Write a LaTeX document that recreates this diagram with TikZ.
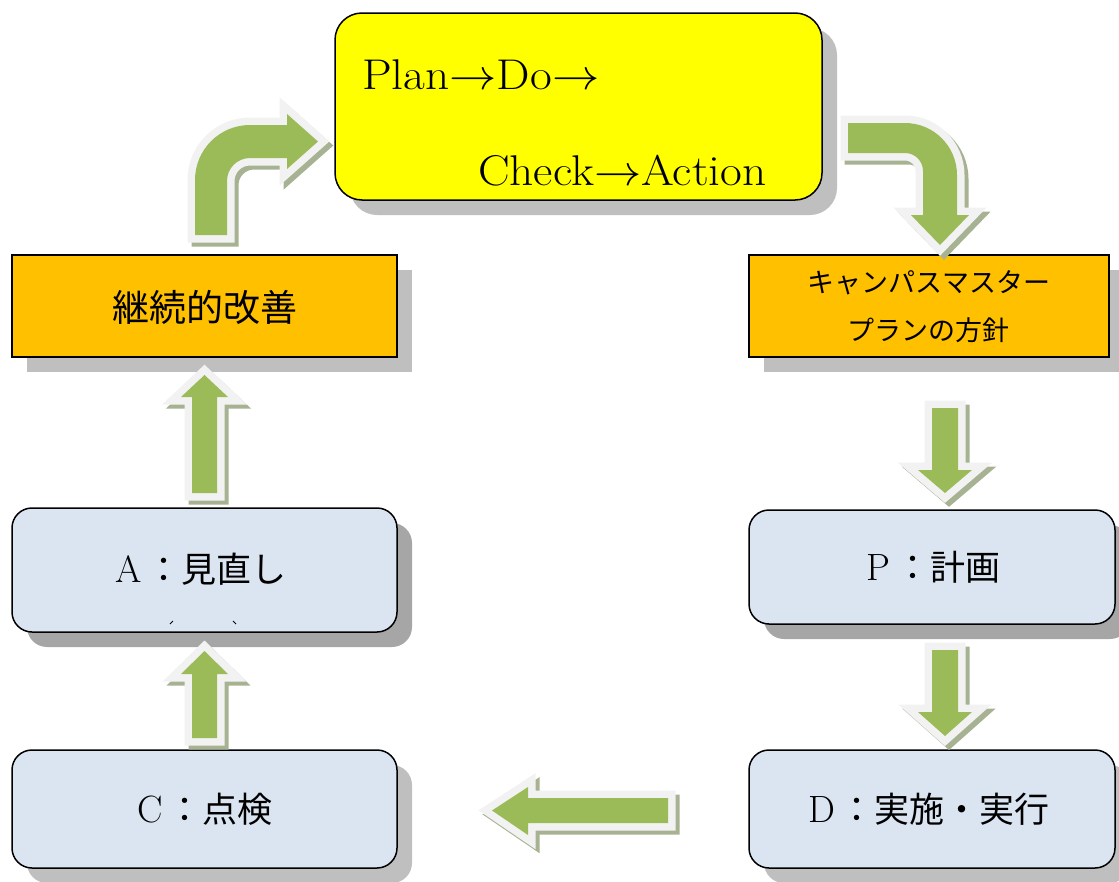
\documentclass[tikz,border=0pt]{standalone}
\usepackage{fontspec}
\usepackage{graphicx}
\newfontfamily\jp{Noto Sans CJK JP}
\usetikzlibrary{shadows}

\definecolor{planyellow}{HTML}{FFFF00}
\definecolor{policyorange}{HTML}{FFC000}
\definecolor{stepblue}{HTML}{DBE5F1}
\definecolor{arrowgreen}{HTML}{9BBB59}
\definecolor{arrowrim}{HTML}{F2F2F2}
\definecolor{arrowshade}{RGB}{166,178,145}
\definecolor{shadelight}{HTML}{BFBFBF}
\definecolor{shadedark}{HTML}{A6A6A6}

% large text arrow built from the 10pt math arrow
\newcommand\bigto{{\fontsize{10}{12}\selectfont\scalebox{4.3}{$\rightarrow$}}}
% wide Latin line for the summary box
\newcommand\wideline[1]{\scalebox{1.1}[1]{#1}}
% step label: Latin letter in a full-width cell, then Japanese text
\newcommand\steplabel[2]{\makebox[35pt]{\fontsize{38}{44}\selectfont #1}{\jp\fontsize{35}{42}\selectfont ：#2}}

% three-layer block arrow: offset shade, light rim, green body
\newcommand\greenarrow[1]{%
  \filldraw[fill=arrowshade, draw=arrowshade, line width=15pt, line join=miter, shift={(4,4)}] #1;
  \filldraw[fill=arrowrim, draw=arrowrim, line width=15pt, line join=miter] #1;
  \fill[arrowgreen] #1;}

\begin{document}
\begin{tikzpicture}[x=1pt, y=-1pt,
  box/.style={draw=black, line width=1.5pt, inner sep=0pt, outer sep=0pt},
  lightshadow/.style={general shadow={fill=shadelight, shadow xshift=15pt, shadow yshift=-15pt}},
  darkshadow/.style={general shadow={fill=shadedark, shadow xshift=15pt, shadow yshift=-15pt}},
  orangebox/.style={box, fill=policyorange, lightshadow},
  stepbox/.style={box, fill=stepblue, rounded corners=20pt},
  latin/.style={inner sep=0pt, anchor=base west, font=\fontsize{43}{50}\selectfont},
  steptext/.style={inner sep=0pt, anchor=base west}
]
\useasboundingbox (0,0) rectangle (1119,881);

% PDCA summary box
\node[box, fill=planyellow, rounded corners=27pt, minimum width=487pt, minimum height=187pt,
  lightshadow] (cycle) at (578.5,106.5) {};
\node[latin] (plando) at (362,89) {\wideline{Plan\bigto Do\bigto}};
\node[latin] (checkact) at (478,185) {\wideline{Check\bigto Action}};

% policy boxes
\node[orangebox, minimum width=385pt, minimum height=102pt] (improve) at (204.5,306) {};
\node[inner sep=0pt, font=\jp\fontsize{37}{44}\selectfont] (improvetext) at (204.5,307) {継続的改善};
\node[orangebox, minimum width=360pt, minimum height=102pt] (policy) at (929,306) {};
\node[inner sep=0pt, font=\jp\fontsize{27}{32}\selectfont] (policy1) at (929,283) {キャンパスマスター};
\node[inner sep=0pt, font=\jp\fontsize{27}{32}\selectfont] (policy2) at (928,330) {プランの方針};

% PDCA steps
\node[stepbox, darkshadow, minimum width=385pt, minimum height=124pt] (act) at (204.5,570) {};
\node[steptext] (acttext) at (111,582) {\steplabel{A}{見直し}};
\draw[line width=0.8pt] (170,624) -- (173,621);
\draw[line width=0.8pt] (233,621) -- (236,624);

\node[stepbox, darkshadow, minimum width=366pt, minimum height=114pt] (plan) at (932,567) {};
\node[steptext] (plantext) at (860.5,580) {\steplabel{P}{計画}};

\node[stepbox, lightshadow, minimum width=385pt, minimum height=118pt] (check) at (204.5,809) {};
\node[steptext] (checktext) at (132.5,822) {\steplabel{C}{点検}};

\node[stepbox, lightshadow, minimum width=366pt, minimum height=118pt] (do) at (932,809) {};
\node[steptext] (dotext) at (804.5,822) {\steplabel{D}{実施・実行}};

% flow arrows
\greenarrow{(195,235) -- (195,180) .. controls (195,149.6) and (219.6,125) .. (250,125)
  -- (287,125) -- (287,114) -- (318,141.5) -- (287,169) -- (287,158) -- (250,158)
  .. controls (237.3,158) and (227,168.3) .. (227,181) -- (227,235) -- cycle}
\greenarrow{(848,123) -- (905,123) .. controls (933.7,123) and (957,146.3) .. (957,175)
  -- (957,215) -- (969,215) -- (940,245) -- (911,215) -- (923,215) -- (923,171)
  .. controls (923,161.1) and (914.9,153) .. (905,153) -- (848,153) -- cycle}
\greenarrow{(932,408) -- (958,408) -- (958,470) -- (972,470) -- (945,493) -- (918,470) -- (932,470) -- cycle}
\greenarrow{(932,650) -- (958,650) -- (958,712) -- (972,712) -- (945,736) -- (918,712) -- (932,712) -- cycle}
\greenarrow{(192,493) -- (192,397) -- (181,397) -- (204.5,375) -- (228,397) -- (217,397) -- (217,493) -- cycle}
\greenarrow{(192,738) -- (192,674) -- (181,674) -- (204.5,651) -- (228,674) -- (217,674) -- (217,738) -- cycle}
\greenarrow{(668,798) -- (528,798) -- (528,787) -- (492,810.5) -- (528,835) -- (528,823) -- (668,823) -- cycle}
\end{tikzpicture}
\end{document}
